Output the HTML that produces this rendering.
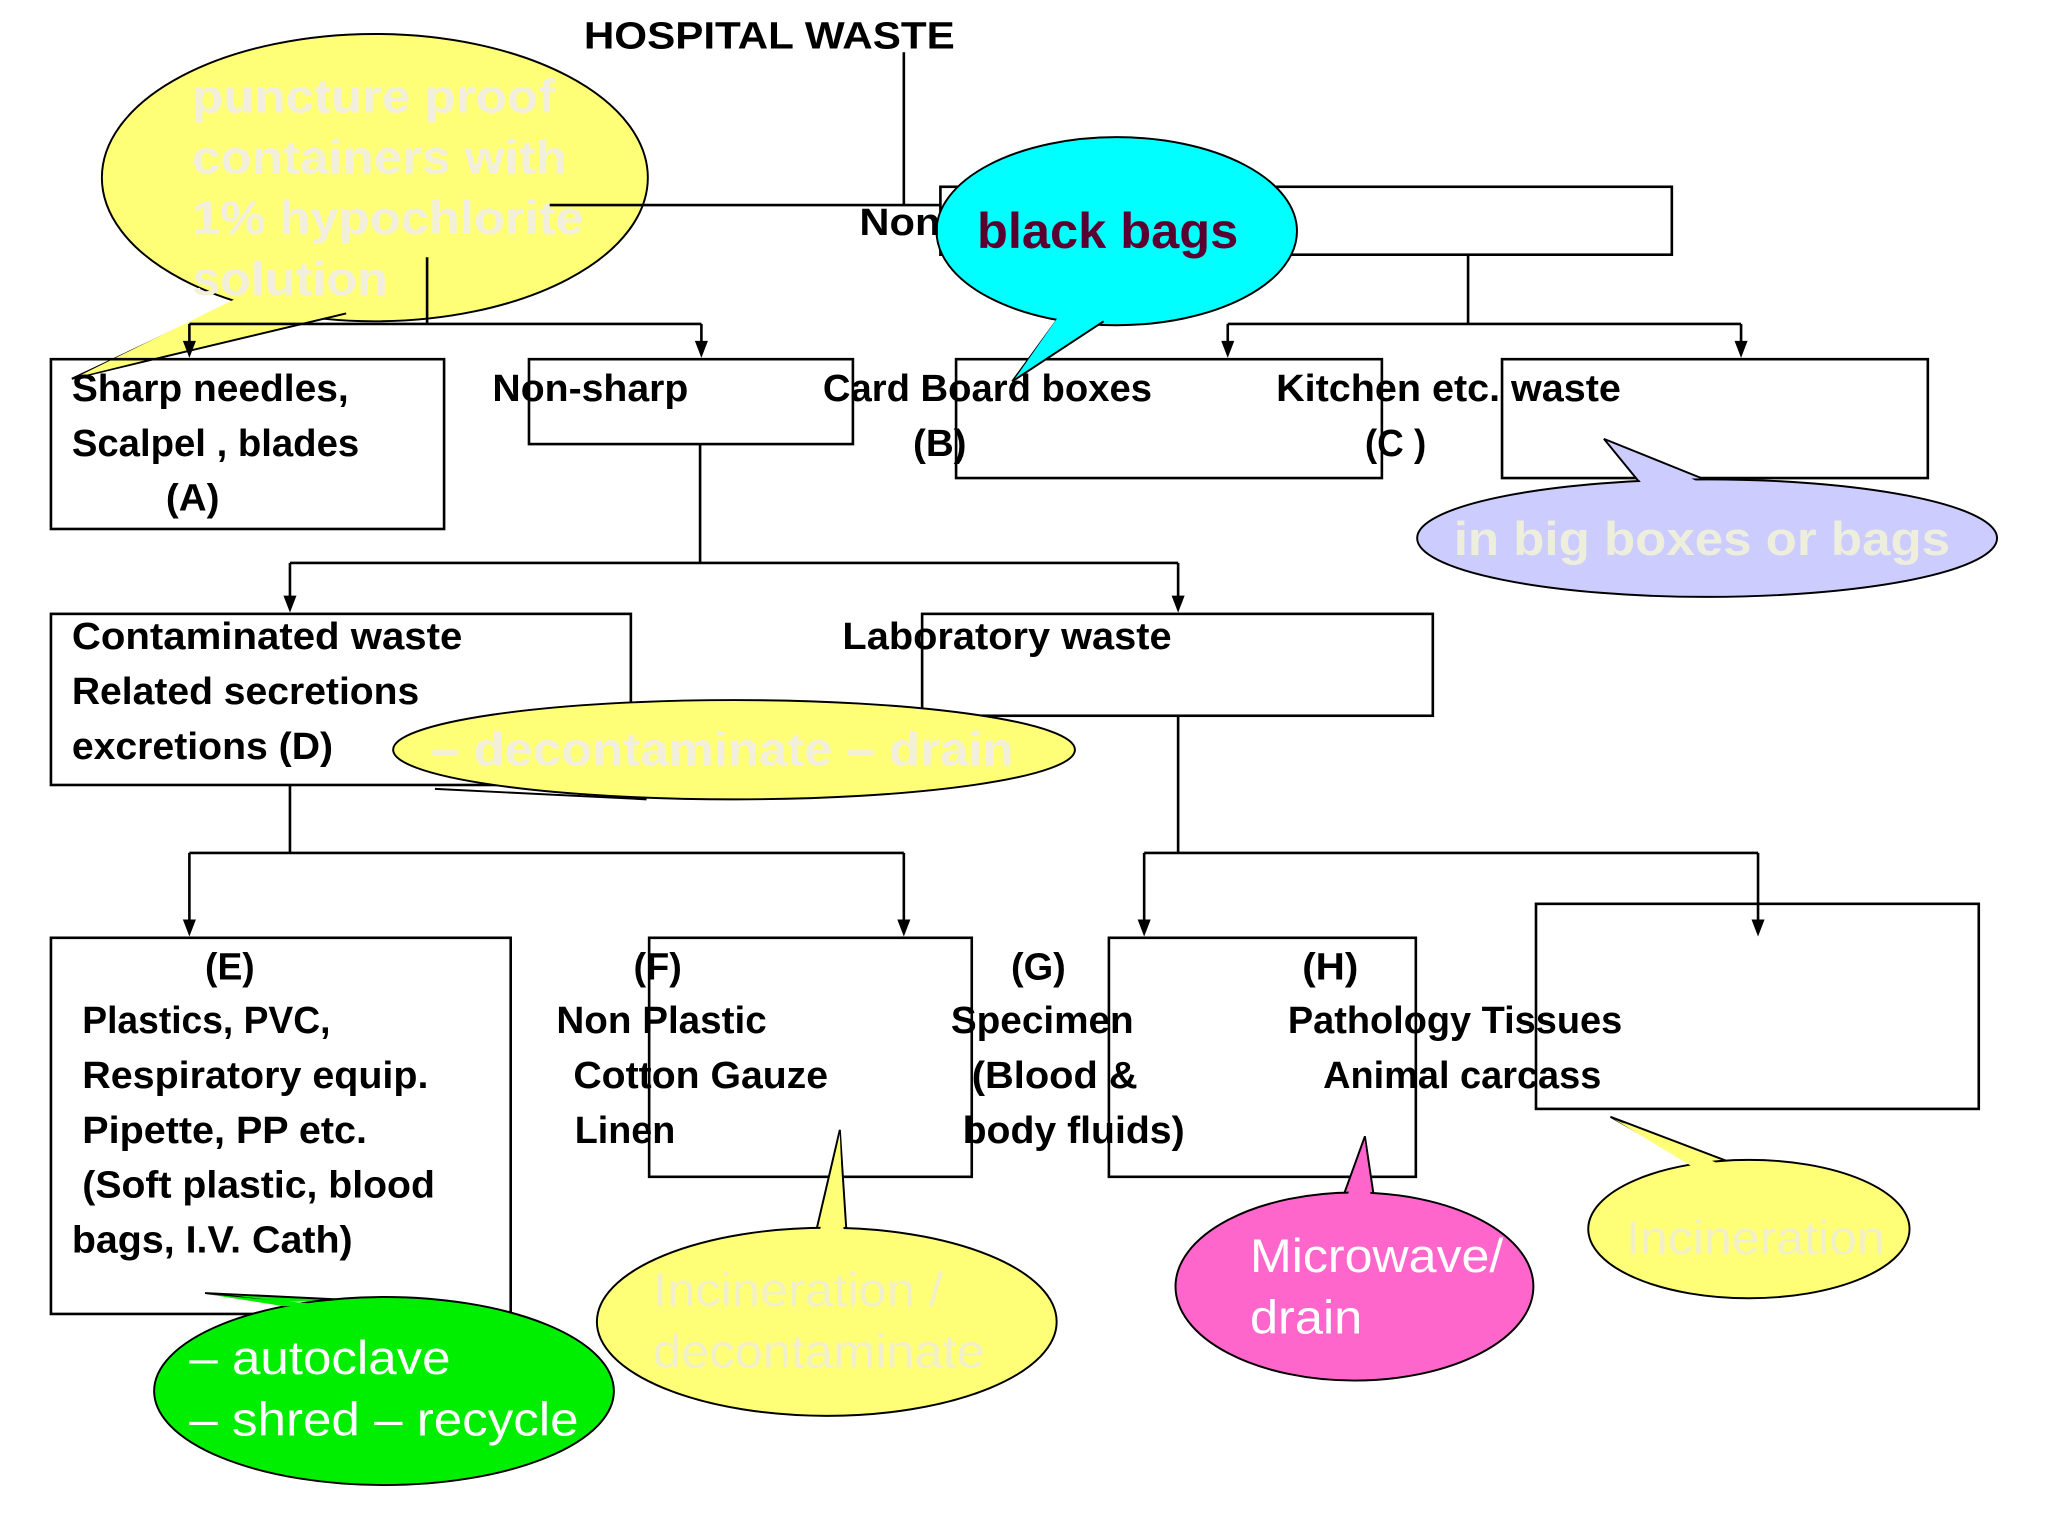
<!DOCTYPE html>
<html><head><meta charset="utf-8"><style>
html,body{margin:0;padding:0;background:#fff;}
svg{display:block;}
.t{font-family:"Liberation Sans",sans-serif;font-weight:bold;font-size:29px;fill:#000;}
.w{font-family:"Liberation Sans",sans-serif;font-size:36px;}
</style></head><body>
<svg width="2048" height="1536" viewBox="0 0 1568 1176" xmlns="http://www.w3.org/2000/svg">
<rect width="1568" height="1176" fill="#fff"/>
<g stroke="#000" stroke-width="1.5">
<ellipse cx="287" cy="136" rx="209" ry="110" fill="#ffff77"/>
<path d="M178,232 L55,290 L265,240" fill="#ffff77"/>
</g>
<path d="M182,228 L58,289 L263,238 Z" fill="#ffff77"/>
<g stroke="#000" stroke-width="2" fill="none">
<line x1="692" y1="40" x2="692" y2="157"/>
<line x1="420" y1="157" x2="720" y2="157"/>
<rect x="720" y="143" width="560" height="52"/>
<line x1="327" y1="197" x2="327" y2="248"/>
<line x1="145" y1="248" x2="537" y2="248"/>
<line x1="145" y1="248" x2="145" y2="262"/>
<line x1="537" y1="248" x2="537" y2="262"/>
<rect x="39" y="275" width="301" height="130"/>
<rect x="405" y="275" width="248" height="65"/>
<rect x="732" y="275" width="326" height="91"/>
<rect x="1150" y="275" width="326" height="91"/>
<line x1="1124" y1="195" x2="1124" y2="248"/>
<line x1="940" y1="248" x2="1333" y2="248"/>
<line x1="940" y1="248" x2="940" y2="262"/>
<line x1="1333" y1="248" x2="1333" y2="262"/>
<line x1="536" y1="340" x2="536" y2="431"/>
<line x1="222" y1="431" x2="902" y2="431"/>
<line x1="222" y1="431" x2="222" y2="457"/>
<line x1="902" y1="431" x2="902" y2="457"/>
<rect x="39" y="470" width="444" height="131"/>
<rect x="706" y="470" width="391" height="78"/>
<line x1="222" y1="601" x2="222" y2="653"/>
<line x1="145" y1="653" x2="692" y2="653"/>
<line x1="145" y1="653" x2="145" y2="705"/>
<line x1="692" y1="653" x2="692" y2="705"/>
<line x1="902" y1="548" x2="902" y2="653"/>
<line x1="876" y1="653" x2="1346" y2="653"/>
<line x1="876" y1="653" x2="876" y2="705"/>
<line x1="1346" y1="653" x2="1346" y2="705"/>
<rect x="39" y="718" width="352" height="288"/>
<rect x="497" y="718" width="247" height="183"/>
<rect x="849" y="718" width="235" height="183"/>
<rect x="1176" y="692" width="339" height="157"/>
</g>
<g fill="#000">
<path d="M140,261 L150,261 L145,274 Z"/>
<path d="M532,261 L542,261 L537,274 Z"/>
<path d="M935,261 L945,261 L940,274 Z"/>
<path d="M1328,261 L1338,261 L1333,274 Z"/>
<path d="M217,456 L227,456 L222,469 Z"/>
<path d="M897,456 L907,456 L902,469 Z"/>
<path d="M140,704 L150,704 L145,717 Z"/>
<path d="M687,704 L697,704 L692,717 Z"/>
<path d="M871,704 L881,704 L876,717 Z"/>
<path d="M1341,704 L1351,704 L1346,717 Z"/>
</g>
<g stroke="#000" stroke-width="1.5">
<ellipse cx="855" cy="177" rx="138" ry="72" fill="#00ffff"/>
<path d="M810,244 L775,292 L845,246" fill="#00ffff"/>
<path d="M1255,369 L1228,336 L1305,367" fill="#ccccff"/>
<ellipse cx="1307" cy="412" rx="222" ry="45" fill="#ccccff"/>
<ellipse cx="562" cy="574" rx="261" ry="38" fill="#ffff77"/>
<path d="M333,604 L495,612" fill="none"/>
<path d="M215,997 L157,990 L262,995" fill="#00ee00"/>
<ellipse cx="294" cy="1065" rx="176" ry="72" fill="#00ee00"/>
<path d="M625,942 L643,865 L648,942" fill="#ffff77"/>
<ellipse cx="633" cy="1012" rx="176" ry="72" fill="#ffff77"/>
<path d="M1028,917 L1045,870 L1052,917" fill="#ff66cc"/>
<ellipse cx="1037" cy="985" rx="137" ry="72" fill="#ff66cc"/>
<path d="M1295,890 L1233,855 L1325,890" fill="#ffff77"/>
<ellipse cx="1339" cy="941" rx="123" ry="53" fill="#ffff77"/>
</g>
<g stroke="none">
<path d="M812,240 L777,290 L843,240 Z" fill="#00ffff"/>
<path d="M1257,370 L1231,338 L1303,370 Z" fill="#ccccff"/>
<path d="M217,1000 L160,991 L260,1000 Z" fill="#00ee00"/>
<path d="M627,946 L643,868 L646,946 Z" fill="#ffff77"/>
<path d="M1030,921 L1045,873 L1050,921 Z" fill="#ff66cc"/>
<path d="M1297,894 L1236,857 L1323,894 Z" fill="#ffff77"/>
</g>
<g lengthAdjust="spacingAndGlyphs">
<text class="t" x="447" y="37" font-size="32" textLength="284" lengthAdjust="spacingAndGlyphs">HOSPITAL WASTE</text>
<text class="t" x="658" y="180" textLength="62" lengthAdjust="spacingAndGlyphs">Non</text>
<g class="w" fill="#f2f0dc" font-weight="bold">
<text x="147" y="86" textLength="278" lengthAdjust="spacingAndGlyphs">puncture proof</text>
<text x="147" y="133" textLength="287" lengthAdjust="spacingAndGlyphs">containers with</text>
<text x="147" y="179" textLength="300" lengthAdjust="spacingAndGlyphs">1% hypochlorite</text>
<text x="147" y="226" textLength="150" lengthAdjust="spacingAndGlyphs">solution</text>
</g>
<text x="748" y="190" font-family="Liberation Sans,sans-serif" font-weight="bold" font-size="38" fill="#5a0030" textLength="200" lengthAdjust="spacingAndGlyphs">black bags</text>
<text class="t" x="55" y="307" textLength="212" lengthAdjust="spacingAndGlyphs">Sharp needles,</text>
<text class="t" x="55" y="349" textLength="220" lengthAdjust="spacingAndGlyphs">Scalpel , blades</text>
<text class="t" x="127" y="391" textLength="41" lengthAdjust="spacingAndGlyphs">(A)</text>
<text class="t" x="377" y="307" textLength="150" lengthAdjust="spacingAndGlyphs">Non-sharp</text>
<text class="t" x="630" y="307" textLength="252" lengthAdjust="spacingAndGlyphs">Card Board boxes</text>
<text class="t" x="699" y="349" textLength="41" lengthAdjust="spacingAndGlyphs">(B)</text>
<text class="t" x="977" y="307" textLength="264" lengthAdjust="spacingAndGlyphs">Kitchen etc. waste</text>
<text class="t" x="1045" y="349" textLength="47" lengthAdjust="spacingAndGlyphs">(C )</text>
<text class="w" x="1113" y="425" fill="#eeeedd" font-weight="bold" font-size="38" textLength="380" lengthAdjust="spacingAndGlyphs">in big boxes or bags</text>
<text class="t" x="55" y="497" textLength="299" lengthAdjust="spacingAndGlyphs">Contaminated waste</text>
<text class="t" x="55" y="539" textLength="266" lengthAdjust="spacingAndGlyphs">Related secretions</text>
<text class="t" x="55" y="581" textLength="200" lengthAdjust="spacingAndGlyphs">excretions (D)</text>
<text class="t" x="645" y="497" textLength="252" lengthAdjust="spacingAndGlyphs">Laboratory waste</text>
<text class="w" x="330" y="586" fill="#f2f0dc" font-weight="bold" textLength="446" lengthAdjust="spacingAndGlyphs">– decontaminate – drain</text>
<text class="t" x="157" y="750" textLength="38" lengthAdjust="spacingAndGlyphs">(E)</text>
<text class="t" x="63" y="791" textLength="190" lengthAdjust="spacingAndGlyphs">Plastics, PVC,</text>
<text class="t" x="63" y="833" textLength="265" lengthAdjust="spacingAndGlyphs">Respiratory equip.</text>
<text class="t" x="63" y="875" textLength="218" lengthAdjust="spacingAndGlyphs">Pipette, PP etc.</text>
<text class="t" x="63" y="917" textLength="270" lengthAdjust="spacingAndGlyphs">(Soft plastic, blood</text>
<text class="t" x="55" y="959" textLength="215" lengthAdjust="spacingAndGlyphs">bags, I.V. Cath)</text>
<text class="t" x="485" y="750" textLength="37" lengthAdjust="spacingAndGlyphs">(F)</text>
<text class="t" x="426" y="791" textLength="161" lengthAdjust="spacingAndGlyphs">Non Plastic</text>
<text class="t" x="439" y="833" textLength="195" lengthAdjust="spacingAndGlyphs">Cotton Gauze</text>
<text class="t" x="440" y="875" textLength="77" lengthAdjust="spacingAndGlyphs">Linen</text>
<text class="t" x="774" y="750" textLength="42" lengthAdjust="spacingAndGlyphs">(G)</text>
<text class="t" x="728" y="791" textLength="140" lengthAdjust="spacingAndGlyphs">Specimen</text>
<text class="t" x="744" y="833" textLength="127" lengthAdjust="spacingAndGlyphs">(Blood &amp;</text>
<text class="t" x="737" y="875" textLength="170" lengthAdjust="spacingAndGlyphs">body fluids)</text>
<text class="t" x="997" y="750" textLength="43" lengthAdjust="spacingAndGlyphs">(H)</text>
<text class="t" x="986" y="791" textLength="256" lengthAdjust="spacingAndGlyphs">Pathology Tissues</text>
<text class="t" x="1013" y="833" textLength="213" lengthAdjust="spacingAndGlyphs">Animal carcass</text>
<g class="w">
<text x="145" y="1052" fill="#ffffff" textLength="200" lengthAdjust="spacingAndGlyphs">– autoclave</text>
<text x="145" y="1099" fill="#ffffff" textLength="298" lengthAdjust="spacingAndGlyphs">– shred – recycle</text>
<text x="500" y="1000" fill="#f2f0c8" textLength="222" lengthAdjust="spacingAndGlyphs">Incineration /</text>
<text x="500" y="1047" fill="#f2f0c8" textLength="254" lengthAdjust="spacingAndGlyphs">decontaminate</text>
<text x="957" y="974" fill="#ffffff" textLength="194" lengthAdjust="spacingAndGlyphs">Microwave/</text>
<text x="957" y="1021" fill="#ffffff" textLength="86" lengthAdjust="spacingAndGlyphs">drain</text>
<text x="1245" y="960" fill="#f2f0c8" textLength="198" lengthAdjust="spacingAndGlyphs">Incineration</text>
</g>
</g>
</svg>
</body></html>
